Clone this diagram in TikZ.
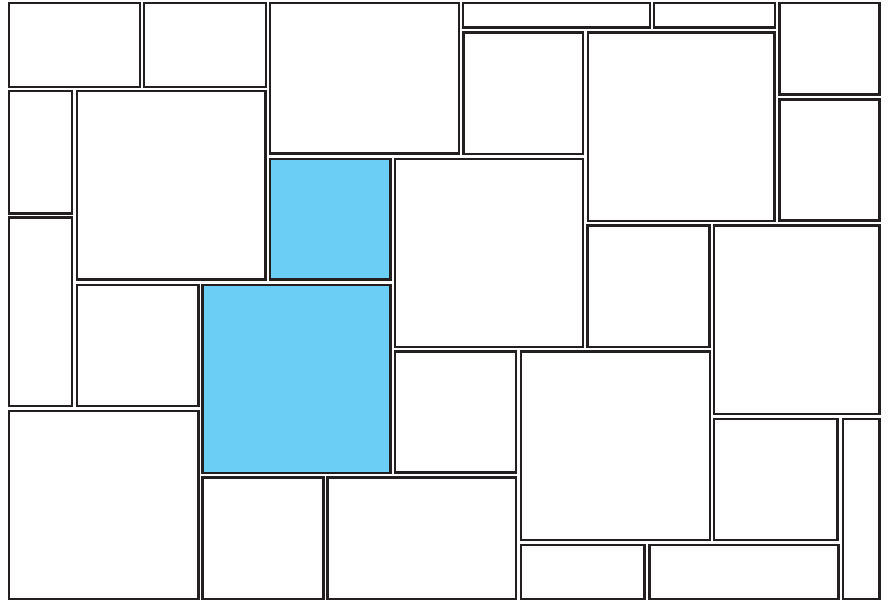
\documentclass[tikz,border=0pt]{standalone}
\usepackage{xcolor}
\definecolor{edgecol}{HTML}{231F20}
\definecolor{tilehl}{HTML}{6BCFF5}
\begin{document}
\begin{tikzpicture}[x=1pt,y=-1pt,
  tile/.style={draw=edgecol,line width=2.7pt,fill=white},
  hltile/.style={tile,fill=tilehl}]
\useasboundingbox (0,0) rectangle (889,602);
\foreach \l/\t/\r/\b in {
  9/3/140/87, 144/3/266/87, 270/3/459/153.5, 463/3/650/27.5, 654/3/775/27.5,
  779.5/3/879.5/94.5, 463.5/32.5/583/154, 588/32.5/774.5/221, 779.5/99.5/879.5/220.5,
  9/91/72/213.5, 77/91/265.5/279.5, 395/159/583/347, 9/217.5/72/406,
  77/285/198.5/406, 587.5/225.5/709.5/347, 714/225.5/879.5/414,
  395/351.5/516/472.5, 521/351.5/710/540, 9/411/198.5/599, 202.5/477.5/323.5/599,
  327.5/477.5/516/599, 714/419/837.5/540, 843/419/879.5/599,
  521/545/644.5/599, 649.5/545/838.5/599}
  \draw[tile] (\l,\t) rectangle (\r,\b);
\draw[hltile] (270,159) rectangle (390.5,279.5);
\draw[hltile] (202.5,285) rectangle (390.5,473);
\end{tikzpicture}
\end{document}
